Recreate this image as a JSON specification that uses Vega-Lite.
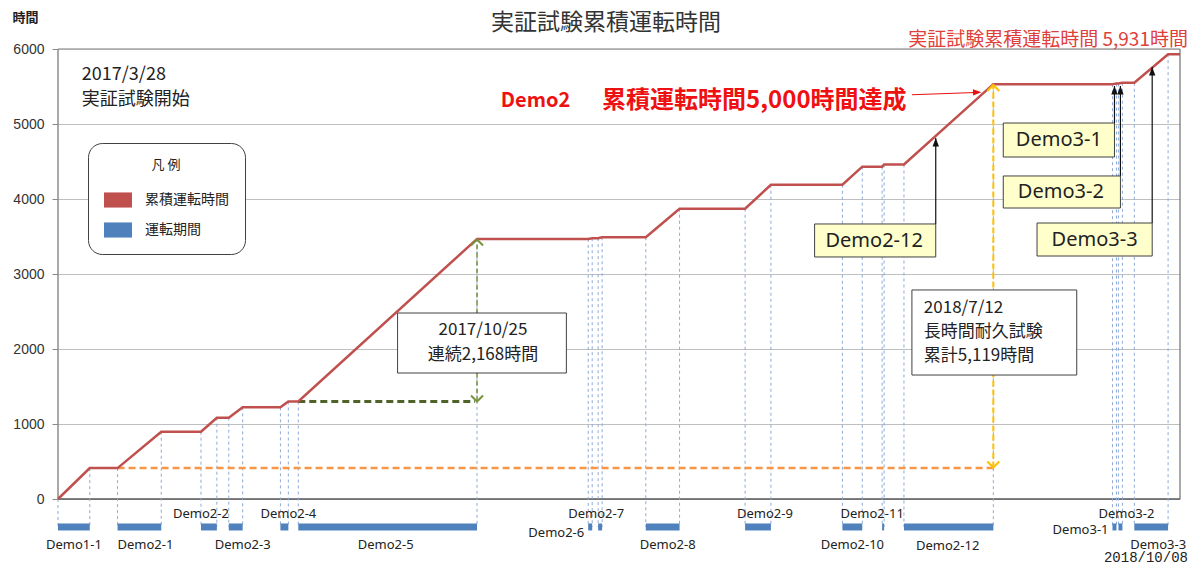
{
  "$schema": "https://vega.github.io/schema/vega-lite/v6.json",
  "width": 1122,
  "height": 510,
  "autosize": {"type": "none"},
  "padding": {"left": 58, "top": 49, "right": 10, "bottom": 6},
  "background": "white",
  "config": {"view": {"stroke": null}},
  "title": {"text": "実証試験累積運転時間", "font": "Noto Sans CJK JP", "fontSize": 23, "fontWeight": "normal", "color": "#333333", "anchor": "middle", "frame": "group", "dx": -13, "dy": 22, "offset": -2},
  "datasets": {
    "cum": [
      {"date": "2017-03-28", "hours": 0},
      {"date": "2017-04-13", "hours": 412},
      {"date": "2017-04-27", "hours": 412},
      {"date": "2017-05-19", "hours": 897},
      {"date": "2017-06-08", "hours": 897},
      {"date": "2017-06-16", "hours": 1084},
      {"date": "2017-06-22", "hours": 1084},
      {"date": "2017-06-29", "hours": 1222},
      {"date": "2017-07-18", "hours": 1222},
      {"date": "2017-07-22", "hours": 1300},
      {"date": "2017-07-27", "hours": 1300},
      {"date": "2017-10-25", "hours": 3468},
      {"date": "2017-12-20", "hours": 3468},
      {"date": "2017-12-22", "hours": 3478},
      {"date": "2017-12-25", "hours": 3478},
      {"date": "2017-12-27", "hours": 3490},
      {"date": "2018-01-18", "hours": 3490},
      {"date": "2018-02-04", "hours": 3870},
      {"date": "2018-03-09", "hours": 3870},
      {"date": "2018-03-22", "hours": 4190},
      {"date": "2018-04-27", "hours": 4190},
      {"date": "2018-05-07", "hours": 4431},
      {"date": "2018-05-17", "hours": 4431},
      {"date": "2018-05-18", "hours": 4460},
      {"date": "2018-05-28", "hours": 4460},
      {"date": "2018-07-12", "hours": 5531},
      {"date": "2018-09-10", "hours": 5531},
      {"date": "2018-09-12", "hours": 5540},
      {"date": "2018-09-13", "hours": 5540},
      {"date": "2018-09-15", "hours": 5550},
      {"date": "2018-09-21", "hours": 5550},
      {"date": "2018-10-08", "hours": 5931},
      {"date": "2018-10-14", "hours": 5931}
    ],
    "periods": [
      {"name": "Demo1-1", "date": "2017-03-28", "end": "2017-04-13", "h0": 0, "h1": 412},
      {"name": "Demo2-1", "date": "2017-04-27", "end": "2017-05-19", "h0": 412, "h1": 897},
      {"name": "Demo2-2", "date": "2017-06-08", "end": "2017-06-16", "h0": 897, "h1": 1084},
      {"name": "Demo2-3", "date": "2017-06-22", "end": "2017-06-29", "h0": 1084, "h1": 1222},
      {"name": "Demo2-4", "date": "2017-07-18", "end": "2017-07-22", "h0": 1222, "h1": 1300},
      {"name": "Demo2-5", "date": "2017-07-27", "end": "2017-10-25", "h0": 1300, "h1": 3468},
      {"name": "Demo2-6", "date": "2017-12-20", "end": "2017-12-22", "h0": 3468, "h1": 3478},
      {"name": "Demo2-7", "date": "2017-12-25", "end": "2017-12-27", "h0": 3478, "h1": 3490},
      {"name": "Demo2-8", "date": "2018-01-18", "end": "2018-02-04", "h0": 3490, "h1": 3870},
      {"name": "Demo2-9", "date": "2018-03-09", "end": "2018-03-22", "h0": 3870, "h1": 4190},
      {"name": "Demo2-10", "date": "2018-04-27", "end": "2018-05-07", "h0": 4190, "h1": 4431},
      {"name": "Demo2-11", "date": "2018-05-17", "end": "2018-05-18", "h0": 4431, "h1": 4460},
      {"name": "Demo2-12", "date": "2018-05-28", "end": "2018-07-12", "h0": 4460, "h1": 5531},
      {"name": "Demo3-1", "date": "2018-09-10", "end": "2018-09-12", "h0": 5531, "h1": 5540},
      {"name": "Demo3-2", "date": "2018-09-13", "end": "2018-09-15", "h0": 5540, "h1": 5550},
      {"name": "Demo3-3", "date": "2018-09-21", "end": "2018-10-08", "h0": 5550, "h1": 5931}
    ],
    "labels": [
      {"text": "Demo1-1", "date": "2017-04-05", "hours": -613},
      {"text": "Demo2-1", "date": "2017-05-11", "hours": -613},
      {"text": "Demo2-2", "date": "2017-06-08", "hours": -205},
      {"text": "Demo2-3", "date": "2017-06-29", "hours": -613},
      {"text": "Demo2-4", "date": "2017-07-22", "hours": -205},
      {"text": "Demo2-5", "date": "2017-09-09", "hours": -613},
      {"text": "Demo2-7", "date": "2017-12-24", "hours": -195},
      {"text": "Demo2-8", "date": "2018-01-29", "hours": -613},
      {"text": "Demo2-9", "date": "2018-03-19", "hours": -195},
      {"text": "Demo2-10", "date": "2018-05-02", "hours": -613},
      {"text": "Demo2-11", "date": "2018-05-12", "hours": -195},
      {"text": "Demo2-12", "date": "2018-06-19", "hours": -625},
      {"text": "Demo3-2", "date": "2018-09-17", "hours": -195},
      {"text": "Demo3-3", "date": "2018-10-03", "hours": -615}
    ],
    "labelsRight": [
      {"text": "Demo2-6", "date": "2017-12-18", "hours": -453},
      {"text": "Demo3-1", "date": "2018-09-08", "hours": -413}
    ],
    "arrows": [
      {"box": "Demo2-12", "date": "2018-06-13", "hours": 3667, "hours2": 4813},
      {"box": "Demo3-1", "date": "2018-09-11", "hours": 5013, "hours2": 5507},
      {"box": "Demo3-2", "date": "2018-09-14", "hours": 4307, "hours2": 5507},
      {"box": "Demo3-3", "date": "2018-09-30", "hours": 3680, "hours2": 5760}
    ]
  },
  "encoding": {
    "x": {"field": "date", "type": "temporal", "scale": {"type": "utc", "domain": [{"year": 2017, "month": 3, "date": 28, "utc": true}, {"year": 2018, "month": 10, "date": 14, "utc": true}]}, "axis": null}
  },
  "layer": [
    {"data": {"values": [{"date": "2017-03-28", "end": "2018-10-14", "hours": 6000}]}, "mark": {"type": "rule", "color": "#a6a6a6", "strokeWidth": 1.5},
      "encoding": {"x2": {"field": "end"},
        "y": {"field": "hours", "type": "quantitative", "scale": {"domain": [-800, 6000], "nice": false, "zero": false},
          "axis": {"values": [0, 1000, 2000, 3000, 4000, 5000, 6000], "format": "d", "title": "時間", "titleAngle": 0, "titleAlign": "left", "titleBaseline": "middle", "titleX": -46, "titleY": -32, "titleFont": "Noto Sans CJK JP", "titleFontSize": 13, "titleFontWeight": "bold", "titleColor": "#222222", "labelFont": "Liberation Sans Narrow, Liberation Sans", "labelFontSize": 14, "labelColor": "#333333", "labelPadding": 8, "tickSize": 6, "tickColor": "#888888", "domain": false, "grid": true, "gridColor": "#bfbfbf", "gridWidth": 1}}}},
    {"data": {"values": [{"date": "2017-03-28", "hours": 0, "hours2": 6000}, {"date": "2018-10-14", "hours": 0, "hours2": 6000}]}, "mark": {"type": "rule", "color": "#8c8c8c", "strokeWidth": 1.5}, "encoding": {"y": {"field": "hours", "type": "quantitative"}, "y2": {"field": "hours2"}}},
    {"data": {"values": [{"date": "2017-03-28", "end": "2018-10-14", "hours": 0}]}, "mark": {"type": "rule", "color": "#595959", "strokeWidth": 1.5}, "encoding": {"x2": {"field": "end"}, "y": {"field": "hours", "type": "quantitative"}}},
    {"data": {"name": "periods"}, "mark": {"type": "rule", "color": "#8eaad6", "strokeWidth": 1, "strokeDash": [3, 3]}, "encoding": {"y": {"field": "h0", "type": "quantitative"}, "y2": {"datum": -373}}},
    {"data": {"name": "periods"}, "mark": {"type": "rule", "color": "#8eaad6", "strokeWidth": 1, "strokeDash": [3, 3]}, "encoding": {"x": {"field": "end", "type": "temporal"}, "y": {"field": "h1", "type": "quantitative"}, "y2": {"datum": -373}}},
    {"data": {"values": [{"date": "2017-04-27", "end": "2018-07-12", "hours": 412}]}, "mark": {"type": "rule", "color": "#f79646", "strokeWidth": 2.5, "strokeDash": [7, 4]}, "encoding": {"x2": {"field": "end"}, "y": {"field": "hours", "type": "quantitative"}}},
    {"data": {"values": [{"date": "2017-07-27", "end": "2017-10-24", "hours": 1300}]}, "mark": {"type": "rule", "color": "#4f6228", "strokeWidth": 3, "strokeDash": [7, 4]}, "encoding": {"x2": {"field": "end"}, "y": {"field": "hours", "type": "quantitative"}}},
    {"data": {"values": [{"date": "2018-07-12", "hours": 420, "hours2": 5520}]}, "mark": {"type": "rule", "color": "#ffc000", "strokeWidth": 2, "strokeDash": [6, 3]}, "encoding": {"y": {"field": "hours", "type": "quantitative"}, "y2": {"field": "hours2"}}},
    {"data": {"values": [{"date": "2017-10-25", "hours": 1300, "hours2": 3460}]}, "mark": {"type": "rule", "color": "#77933c", "strokeWidth": 1.5, "strokeDash": [5, 3]}, "encoding": {"y": {"field": "hours", "type": "quantitative"}, "y2": {"field": "hours2"}}},
    {"data": {"name": "periods"}, "mark": {"type": "rect", "height": 7},
      "encoding": {"x2": {"field": "end"}, "y": {"datum": -373, "type": "quantitative"},
        "color": {"datum": "運転期間", "scale": {"domain": ["累積運転時間", "運転期間"], "range": ["#c0504d", "#4f81bd"]},
          "legend": {"title": "凡 例", "orient": "none", "legendX": 30, "legendY": 94, "titleAnchor": "middle", "titleFont": "Noto Sans CJK JP", "titleFontSize": 13, "titleFontWeight": "normal", "titleColor": "#222222", "titlePadding": 14, "labelFont": "Noto Sans CJK JP", "labelFontSize": 14, "labelColor": "#222222", "labelOffset": 13, "symbolType": "M-1,-0.54L1,-0.54L1,0.54L-1,0.54Z", "symbolSize": 784, "symbolStrokeWidth": 0, "rowPadding": 8, "padding": 16, "strokeColor": "#404040", "fillColor": "white", "cornerRadius": 14}}}},
    {"data": {"values": [{"date": "2017-09-15", "end": "2017-12-09", "hours": 1680, "hours2": 2480}, {"date": "2018-06-01", "end": "2018-08-23", "hours": 1653, "hours2": 2787}]}, "mark": {"type": "rect", "fill": "white", "stroke": "#404040", "strokeWidth": 1}, "encoding": {"x2": {"field": "end"}, "y": {"field": "hours", "type": "quantitative"}, "y2": {"field": "hours2"}}},
    {"data": {"values": [{"date": "2018-04-13", "end": "2018-06-13", "hours": 3227, "hours2": 3667}, {"date": "2018-07-17", "end": "2018-09-11", "hours": 4560, "hours2": 5013}, {"date": "2018-07-17", "end": "2018-09-14", "hours": 3880, "hours2": 4307}, {"date": "2018-08-03", "end": "2018-09-30", "hours": 3240, "hours2": 3680}]}, "mark": {"type": "rect", "fill": "#ffffcc", "stroke": "#404040", "strokeWidth": 1}, "encoding": {"x2": {"field": "end"}, "y": {"field": "hours", "type": "quantitative"}, "y2": {"field": "hours2"}}},
    {"data": {"name": "cum"}, "mark": {"type": "line", "strokeWidth": 2.5}, "encoding": {"y": {"field": "hours", "type": "quantitative"}, "color": {"datum": "累積運転時間", "legend": null}}},
    {"data": {"name": "arrows"}, "mark": {"type": "rule", "color": "#111111", "strokeWidth": 1.2}, "encoding": {"y": {"field": "hours", "type": "quantitative"}, "y2": {"field": "hours2"}}},
    {"data": {"name": "arrows"}, "mark": {"type": "point", "shape": "M0,0L0.45,1.2L-0.45,1.2Z", "size": 200, "filled": true, "color": "#111111", "opacity": 1}, "encoding": {"y": {"field": "hours2", "type": "quantitative"}}},
    {"data": {"values": [{"date": "2018-06-01", "end": "2018-07-03", "hours": 5390, "hours2": 5420}]}, "mark": {"type": "rule", "color": "#e81010", "strokeWidth": 1.2}, "encoding": {"x2": {"field": "end"}, "y": {"field": "hours", "type": "quantitative"}, "y2": {"field": "hours2"}}},
    {"data": {"values": [{"date": "2018-07-06", "hours": 5422}]}, "mark": {"type": "point", "shape": "M0,0L-1.2,-0.45L-1.2,0.45Z", "size": 200, "filled": true, "color": "#e81010", "opacity": 1}, "encoding": {"y": {"field": "hours", "type": "quantitative"}}},
    {"data": {"values": [{"date": "2018-07-12", "hours": 5520}]}, "mark": {"type": "point", "shape": "M-1,1L0,0L1,1", "size": 144, "filled": false, "color": "#ffc000", "strokeWidth": 2, "opacity": 1}, "encoding": {"y": {"field": "hours", "type": "quantitative"}}},
    {"data": {"values": [{"date": "2018-07-12", "hours": 420}]}, "mark": {"type": "point", "shape": "M-1,-1L0,0L1,-1", "size": 144, "filled": false, "color": "#ffc000", "strokeWidth": 2, "opacity": 1}, "encoding": {"y": {"field": "hours", "type": "quantitative"}}},
    {"data": {"values": [{"date": "2017-10-25", "hours": 3460}]}, "mark": {"type": "point", "shape": "M-1,1L0,0L1,1", "size": 144, "filled": false, "color": "#77933c", "strokeWidth": 2, "opacity": 1}, "encoding": {"y": {"field": "hours", "type": "quantitative"}}},
    {"data": {"values": [{"date": "2017-10-25", "hours": 1300}]}, "mark": {"type": "point", "shape": "M-1,-1L0,0L1,-1", "size": 144, "filled": false, "color": "#77933c", "strokeWidth": 2, "opacity": 1}, "encoding": {"y": {"field": "hours", "type": "quantitative"}}},
    {"data": {"values": [{"date": "2017-04-09", "hours": 5653, "text": "2017/3/28"}, {"date": "2017-04-09", "hours": 5320, "text": "実証試験開始"}]}, "mark": {"type": "text", "align": "left", "baseline": "middle", "font": "Noto Sans CJK JP", "fontSize": 18, "color": "#222222"}, "encoding": {"y": {"field": "hours", "type": "quantitative"}, "text": {"field": "text"}}},
    {"data": {"values": [{"date": "2017-11-06", "hours": 5307, "text": "Demo2"}]}, "mark": {"type": "text", "align": "left", "baseline": "middle", "font": "Noto Sans CJK JP", "fontSize": 20, "fontWeight": "bold", "color": "#ee1111"}, "encoding": {"y": {"field": "hours", "type": "quantitative"}, "text": {"field": "text"}}},
    {"data": {"values": [{"date": "2017-12-27", "hours": 5307, "text": "累積運転時間5,000時間達成"}]}, "mark": {"type": "text", "align": "left", "baseline": "middle", "font": "Noto Sans CJK JP", "fontSize": 24, "fontWeight": "bold", "color": "#ee1111"}, "encoding": {"y": {"field": "hours", "type": "quantitative"}, "text": {"field": "text"}}},
    {"data": {"values": [{"date": "2018-10-18", "hours": 6120, "text": "実証試験累積運転時間 5,931時間"}]}, "mark": {"type": "text", "align": "right", "baseline": "middle", "font": "Noto Sans CJK JP", "fontSize": 19, "color": "#e0403a"}, "encoding": {"y": {"field": "hours", "type": "quantitative"}, "text": {"field": "text"}}},
    {"data": {"values": [{"date": "2017-10-28", "hours": 2253, "text": "2017/10/25"}, {"date": "2017-10-28", "hours": 1920, "text": "連続2,168時間"}]}, "mark": {"type": "text", "align": "center", "baseline": "middle", "font": "Noto Sans CJK JP", "fontSize": 17, "color": "#222222"}, "encoding": {"y": {"field": "hours", "type": "quantitative"}, "text": {"field": "text"}}},
    {"data": {"values": [{"date": "2018-06-07", "hours": 2547, "text": "2018/7/12"}, {"date": "2018-06-07", "hours": 2227, "text": "長時間耐久試験"}, {"date": "2018-06-07", "hours": 1907, "text": "累計5,119時間"}]}, "mark": {"type": "text", "align": "left", "baseline": "middle", "font": "Noto Sans CJK JP", "fontSize": 17, "color": "#222222"}, "encoding": {"y": {"field": "hours", "type": "quantitative"}, "text": {"field": "text"}}},
    {"data": {"values": [{"date": "2018-05-13", "hours": 3440, "text": "Demo2-12"}, {"date": "2018-08-14", "hours": 4787, "text": "Demo3-1"}, {"date": "2018-08-15", "hours": 4093, "text": "Demo3-2"}, {"date": "2018-09-01", "hours": 3453, "text": "Demo3-3"}]}, "mark": {"type": "text", "align": "center", "baseline": "middle", "font": "Noto Sans", "fontSize": 20, "color": "#222222"}, "encoding": {"y": {"field": "hours", "type": "quantitative"}, "text": {"field": "text"}}},
    {"data": {"name": "labels"}, "mark": {"type": "text", "align": "center", "baseline": "middle", "font": "Noto Sans", "fontSize": 13, "color": "#222222"}, "encoding": {"y": {"field": "hours", "type": "quantitative"}, "text": {"field": "text"}}},
    {"data": {"name": "labelsRight"}, "mark": {"type": "text", "align": "right", "baseline": "middle", "font": "Noto Sans", "fontSize": 13, "color": "#222222"}, "encoding": {"y": {"field": "hours", "type": "quantitative"}, "text": {"field": "text"}}},
    {"data": {"values": [{"date": "2018-10-18", "hours": -780, "text": "2018/10/08"}]}, "mark": {"type": "text", "align": "right", "baseline": "middle", "font": "Liberation Mono", "fontSize": 14, "color": "#222222"}, "encoding": {"y": {"field": "hours", "type": "quantitative"}, "text": {"field": "text"}}}
  ]
}
